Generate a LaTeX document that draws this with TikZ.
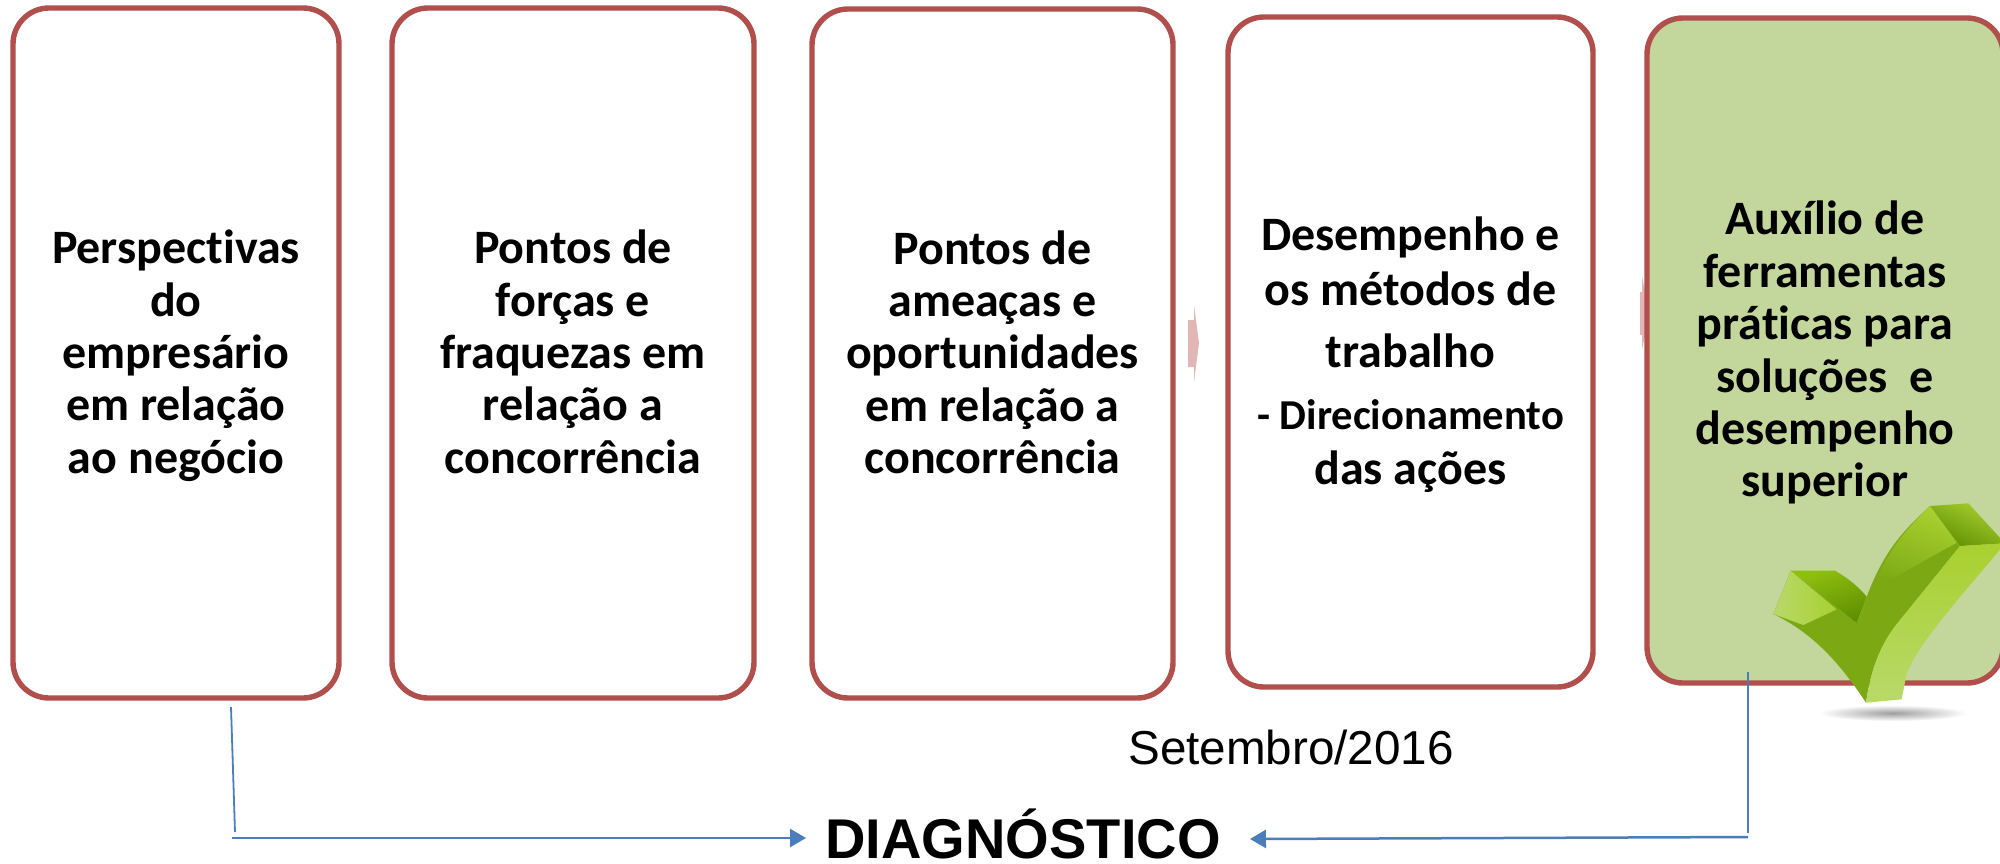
\documentclass[tikz,border=0pt]{standalone}
\usepackage{fontspec}
\setmainfont{Carlito}[Ligatures={NoCommon}]
\newfontfamily\arialfont{Liberation Sans}
\usetikzlibrary{arrows.meta,calc}
\definecolor{boxred}{HTML}{B04F4B}
\definecolor{boxgreen}{HTML}{C3D69B}
\definecolor{linkblue}{HTML}{4A7EBB}
\definecolor{pinkarrow}{HTML}{E2B6B5}
\definecolor{ckdark}{HTML}{5F8F00}
\definecolor{ckmid}{HTML}{7BA813}
\definecolor{ckbright}{HTML}{8FC010}
\definecolor{cklight}{HTML}{A9D030}
\definecolor{ckpale}{HTML}{B8D96A}
\newcommand\topline{\rule{0pt}{23.3pt}}
\tikzset{
  x=0.5pt,y=-0.5pt,
  cardbox/.style={draw=boxred,line width=2.7pt,rounded corners=18pt,fill=white,inner sep=0pt,align=center,
    font=\fontsize{24}{26.2}\selectfont\bfseries},
  linkline/.style={draw=linkblue,line width=1.2pt},
  linkarrow/.style={draw=linkblue,line width=1.25pt,-{Triangle[length=8pt,width=9pt]}},
  pinkhead/.style={fill=pinkarrow,draw=none},
}
\begin{document}
\begin{tikzpicture}
\useasboundingbox (0,0) rectangle (2000,863);
\clip (0,0) rectangle (2000,863);
% faint arrows between boxes
\fill[pinkhead] (1188,320) -- (1194,320) -- (1194,305) -- (1199,343) -- (1194,382) -- (1194,367) -- (1188,367) -- cycle;
\fill[pinkhead] (1640,292) -- (1642,292) -- (1642,277) -- (1650,313) -- (1642,349) -- (1642,335) -- (1640,335) -- cycle;
% boxes
\node[cardbox,minimum width=163pt,minimum height=345pt] (b1) at (176,353) {\topline Perspectivas\\do\\empresário\\em relação\\ao negócio\strut};
\node[cardbox,minimum width=181pt,minimum height=345pt] (b2) at (573,353) {\topline Pontos de\\forças e\\fraquezas em\\relação a\\concorrência\strut};
\node[cardbox,minimum width=180.5pt,minimum height=344.5pt] (b3) at (992.5,353.5) {\topline Pontos de\\ameaças e\\oportunidades\\em relação a\\concorrência\strut};
\node[cardbox,minimum width=182.5pt,minimum height=335pt] (b4) at (1410.5,352) {\topline Desempenho e\\[1.5pt]os métodos de\\[5pt]trabalho\\[4.5pt]{\fontsize{21.3}{26.2}\selectfont - Direcionamento}\\[1.5pt]das ações\strut};
\node[cardbox,fill=boxgreen,minimum width=178pt,minimum height=332.5pt] (b5) at (1825,350.5) {\topline Auxílio de\\ferramentas\\práticas para\\soluções~ e\\desempenho\\superior\strut};
% labels
\node[font=\arialfont\fontsize{23.8}{28}\selectfont,anchor=base,inner sep=0pt] (date) at (1291,764) {Setembro/2016};
\node[font=\arialfont\fontsize{28}{34}\selectfont\bfseries,anchor=base,inner sep=0pt] (diag) at (1023,858) {DIAGNÓSTICO};
% connectors
\coordinate (l1) at (231,707);
\coordinate (l2) at (235,832);
\coordinate (l3) at (232,838);
\coordinate (r1) at (1748,672);
\coordinate (r2) at (1748,833);
\coordinate (r3) at (1748,837);
\draw[linkline,line width=0.9pt] (l1) -- (l2);
\draw[linkarrow] (l3) -- ([xshift=-9.5pt]diag.west |- l3);
\draw[linkline] (r1) -- (r2);
\draw[linkarrow] (r3) -- ([xshift=14.5pt,yshift=-1pt]diag.east |- r3);
% check mark
\shade[inner color=black!38,outer color=white] (1893,713) ellipse [x radius=74,y radius=8];
\begin{scope}[x=0.16667pt,y=-0.16667pt,shift={(800pt,-225pt)}]
  % top end facet
  \shade[top color=cklight,bottom color=ckdark,shading angle=-25] (990,168) -- (1105,160) -- (1215,280) -- (1080,288) -- cycle;
  % inner left facet
  \shade[left color=ckbright,right color=ckdark,shading angle=20] (572,362) -- (705,362) .. controls (745,385) and (775,410) .. (800,440) -- (770,520) -- cycle;
  % front face
  \fill[ckmid] (572,362) -- (770,520) -- (800,440) .. controls (850,310) and (900,250) .. (990,168) -- (1080,288) -- (900,510) .. controls (850,570) and (815,640) .. (798,758) .. controls (720,640) and (640,550) .. (520,492) -- cycle;
  % upper arm highlight
  \shade[top color=cklight,bottom color=ckmid,shading angle=-20] (990,168) -- (1070,278) -- (815,420) .. controls (860,310) and (905,250) .. (990,168) -- cycle;
  % left arm highlight
  \shade[left color=ckpale,right color=cklight] (572,362) -- (710,478) -- (610,525) -- (520,492) -- cycle;
  % right side face
  \shade[top color=cklight,bottom color=ckpale] (1080,288) -- (1215,280) .. controls (1100,420) and (960,570) .. (920,670) -- (905,748) -- (798,758) .. controls (815,640) and (850,570) .. (900,510) -- cycle;
\end{scope}
\end{tikzpicture}
\end{document}
